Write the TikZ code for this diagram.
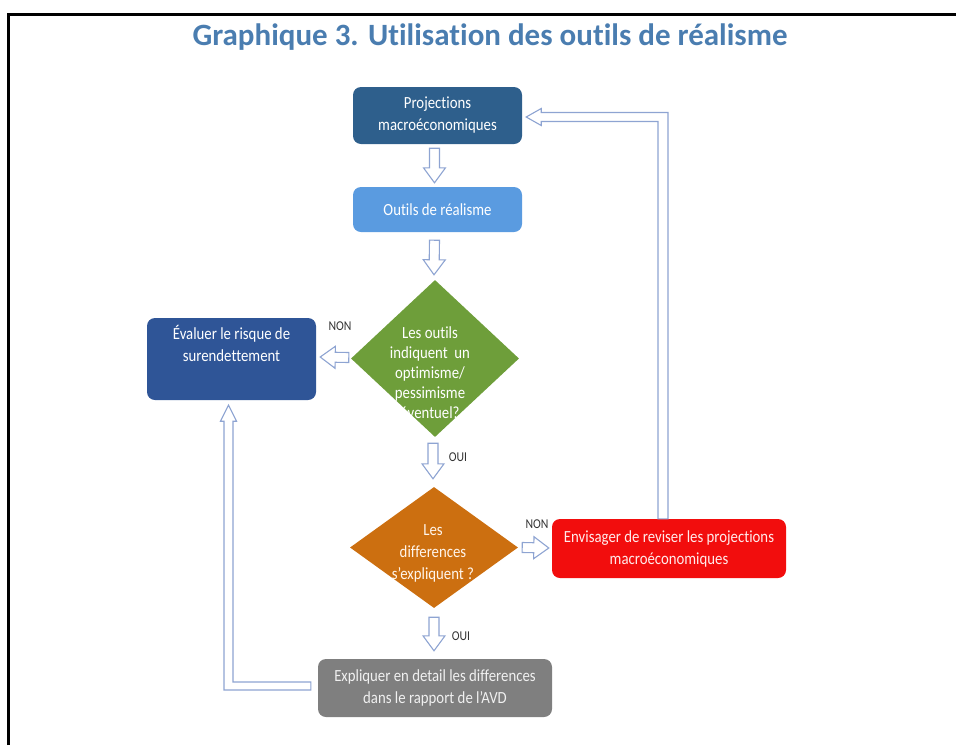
\documentclass[tikz,border=0pt]{standalone}
\usepackage{fontspec}
\setmainfont[Ligatures={NoCommon}]{Carlito}
\newfontfamily\narrowfont[Ligatures={NoCommon},FakeStretch=0.87]{Carlito}
\usetikzlibrary{calc,shapes.geometric}
\definecolor{titlec}{HTML}{4A7DB0}
\definecolor{boxa}{HTML}{2E5F8C}
\definecolor{boxb}{HTML}{5A9BE0}
\definecolor{boxc}{HTML}{2F5597}
\definecolor{greenc}{HTML}{6E9E3A}
\definecolor{orangec}{HTML}{CC6F10}
\definecolor{redc}{HTML}{F20D0D}
\definecolor{greyc}{HTML}{7F7F7F}
\definecolor{arrowc}{HTML}{8EA4D2}
\definecolor{labc}{HTML}{333333}
\tikzset{
  rbox/.style={rounded corners=8pt, inner sep=0pt, align=center, text=white},
  dshape/.style={diamond, inner sep=0pt},
  btext/.style={align=center, inner sep=0pt, text=white, font=\narrowfont\fontsize{17}{22}\selectfont},
  dtext/.style={align=center, inner sep=0pt, text=white, font=\narrowfont\fontsize{17}{20}\selectfont},
  lab/.style={inner sep=0pt, text=labc, font=\narrowfont\fontsize{13.5}{14}\selectfont},
  hollow/.style={draw=arrowc, line width=1.1pt, fill=white, line join=miter},
}
\newcommand\HolArrow[2]{%
  \path coordinate (hh) at ($(#2)!15pt!(#1)$);
  \draw[hollow] ($(#1)!5pt!90:(#2)$) -- ($(hh)!5pt!90:(#2)$) -- ($(hh)!11pt!90:(#2)$)
    -- (#2) -- ($(hh)!11pt!-90:(#2)$) -- ($(hh)!5pt!-90:(#2)$) -- ($(#1)!5pt!-90:(#2)$) -- cycle;}
\begin{document}
\begin{tikzpicture}[x=1pt,y=-1pt]
\useasboundingbox (0,0) rectangle (956,745);
% frame
\draw[line width=3pt] (8,745) -- (8,14) -- (956,14);
% title
\node[inner sep=0pt, text=titlec, font=\fontsize{31}{36}\selectfont\bfseries] (title) at (490,37) {Graphique 3. Utilisation des outils de réalisme};
% boxes
\node[rbox, fill=boxa, minimum width=169pt, minimum height=57pt] (p1) at (437.5,115.5) {};
\node[btext] (p1t) at (p1) {Projections\\macroéconomiques};
\node[rbox, fill=boxb, minimum width=169pt, minimum height=45pt] (p2) at (437.5,209.5) {};
\node[btext] (p2t) at (p2) {Outils de réalisme};
\node[rbox, fill=boxc, minimum width=169pt, minimum height=82pt] (ev) at (231.5,359) {};
\node[btext] (evt) at ($(ev.north)+(0,26)$) {Évaluer le risque de\\surendettement};
\node[dshape, fill=greenc, minimum width=168pt, minimum height=157pt] (d1) at (435,358.5) {};
\node[dtext] (d1t) at ($(d1)+(-5,14)$) {Les outils\\indiquent\ \ un\\optimisme/\\pessimisme\\éventuel?};
\node[dshape, fill=orangec, minimum width=168pt, minimum height=121pt] (d2) at (434,547.5) {};
\node[btext, text=orange!8] (d2t) at ($(d2)+(-1,6)$) {Les\\differences\\s’expliquent ?};
\node[rbox, fill=redc, minimum width=234pt, minimum height=59pt] (r) at (669,548.5) {};
\node[btext, text=red!8] (rt) at (r) {Envisager de reviser les projections\\macroéconomiques};
\node[rbox, fill=greyc, minimum width=234pt, minimum height=58pt] (g) at (435,688) {};
\node[btext, text=black!6] (gt) at (g) {Expliquer en detail les differences\\dans le rapport de l’AVD};
% labels
\node[lab] (non1) at (340,326) {NON};
\node[lab] (oui1) at (458,457) {OUI};
\node[lab] (non2) at (537,524) {NON};
\node[lab] (oui2) at (461,636) {OUI};
% straight hollow arrows
\coordinate (a1s) at ($(p1.south)+(-3,4)$);
\coordinate (a1e) at ($(p2.north)+(-3,-4)$);
\coordinate (a2s) at ($(p2.south)+(-3,8)$);
\coordinate (a2e) at ($(d1.north)+(-1,-5)$);
\coordinate (a3s) at ($(d1.south)+(-2,6)$);
\coordinate (a3e) at ($(d2.north)+(-1,-8)$);
\coordinate (a4s) at ($(d2.south)+(0,9)$);
\coordinate (a4e) at ($(g.north)+(-1,-8)$);
\coordinate (a5s) at ($(d1.west)+(-2,-1)$);
\coordinate (a5e) at ($(ev.east)+(4,-2)$);
\coordinate (a6s) at ($(d2.east)+(4,0)$);
\coordinate (a6e) at ($(r.west)+(-3,-0.5)$);
\HolArrow{a1s}{a1e}
\HolArrow{a2s}{a2e}
\HolArrow{a3s}{a3e}
\HolArrow{a4s}{a4e}
\HolArrow{a5s}{a5e}
\HolArrow{a6s}{a6e}
% loop back to projections
\coordinate (T1) at ($(p1.east)+(4,1.5)$);
\coordinate (C1) at (663,117);
\coordinate (S1) at (r.north -| C1);
\draw[hollow] ($(S1)+(-5,0)$) -- ($(C1)+(-5,4.5)$) -- ($(T1)+(15,4.5)$) -- ($(T1)+(15,8.5)$)
  -- (T1) -- ($(T1)+(15,-8.5)$) -- ($(T1)+(15,-4.5)$) -- ($(C1)+(5,-4.5)$) -- ($(S1)+(5,0)$) -- cycle;
% loop to evaluate
\coordinate (S2) at ($(g.west)+(-7,-2)$);
\coordinate (T2) at ($(ev.south)+(-3,5)$);
\coordinate (C2) at (T2 |- S2);
\draw[hollow] ($(S2)+(0,-4)$) -- ($(C2)+(4.5,-4)$) -- ($(T2)+(4.5,16)$) -- ($(T2)+(8,16)$)
  -- (T2) -- ($(T2)+(-8,16)$) -- ($(T2)+(-4.5,16)$) -- ($(C2)+(-4.5,4)$) -- ($(S2)+(0,4)$) -- cycle;
\end{tikzpicture}
\end{document}
